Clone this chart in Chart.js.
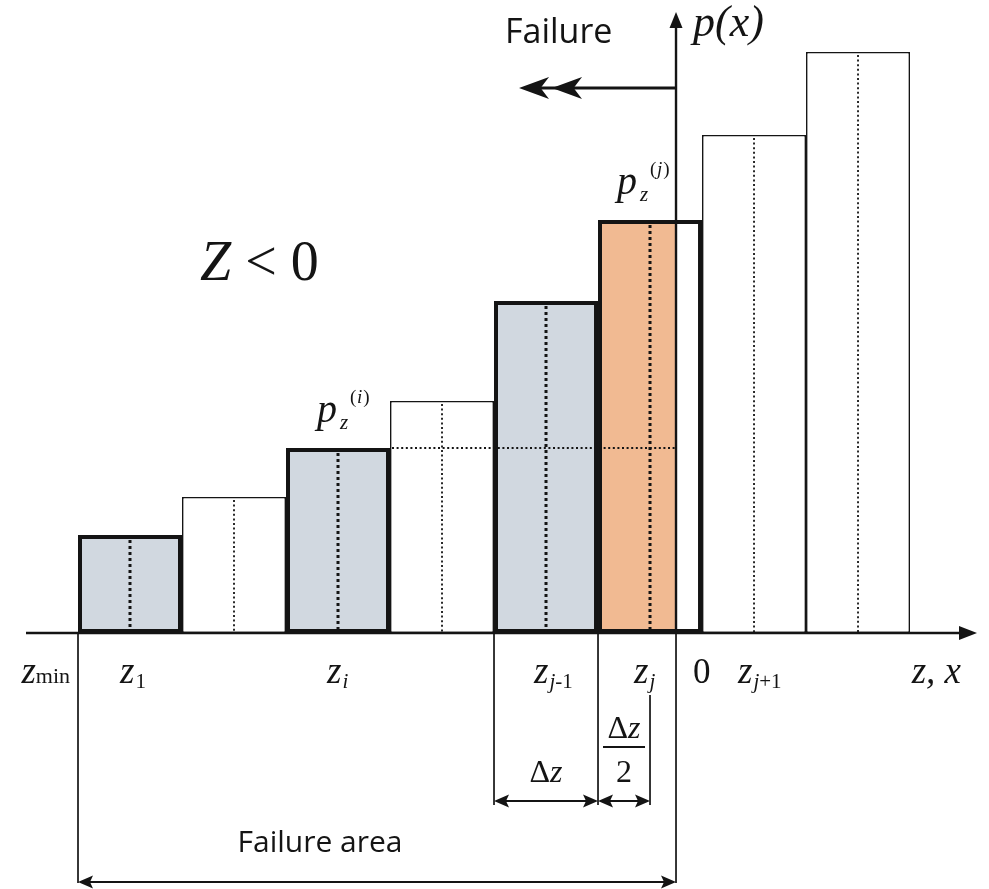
<!DOCTYPE html>
<html>
<head>
<meta charset="utf-8">
<script src="https://cdn.jsdelivr.net/npm/chart.js@4.4.0/dist/chart.umd.min.js"></script>
<style>
  html, body { margin: 0; padding: 0; background: #fff; }
  #wrap { width: 989px; height: 889px; position: relative; }
</style>
</head>
<body>
<div id="wrap"><canvas id="myChart"></canvas></div>
<script>
// x in units of Δz (z_1 sits at 1), y = histogram density p_z
const binCenters = [1, 2, 3, 4, 5, 6, 7, 8];
const density = [0.98, 1.36, 1.85, 2.32, 3.32, 4.13, 4.98, 5.81];
const failureBins = [0, 2, 4];   // bins fully inside the failure area
const splitBin = 5;              // z_j, cut by z = 0
const zeroAt = 6.25;             // where z = 0 lies
const zMinAt = 0.5;
const tickValues = [0.5, 1, 3, 5, 6, 6.25, 7, 9.144];
const tickLabels = [['z', 'min'], ['z', '1'], ['z', 'i'], ['z', 'j-1'], ['z', 'j'], ['0', ''], ['z', 'j+1'], ['z, x', '']];

const gray = 'rgb(209,216,224)';
const orange = 'rgb(241,186,146)';
const ink = '#141414';
const serif = '"Liberation Serif", "DejaVu Serif", serif';
const sans = '"Open Sans", "Noto Sans", sans-serif';

function line(ctx, x0, y0, x1, y1) {
  ctx.beginPath();
  ctx.moveTo(x0, y0);
  ctx.lineTo(x1, y1);
  ctx.stroke();
}

// arrow head, (dx,dy) points toward the tip
function head(ctx, tx, ty, dx, dy, len, half, notch) {
  const bx = tx - dx * len, by = ty - dy * len;
  const px = -dy, py = dx;
  const n = notch || 1;
  ctx.beginPath();
  ctx.moveTo(tx, ty);
  ctx.lineTo(bx + px * half, by + py * half);
  ctx.lineTo(tx - dx * len * n, ty - dy * len * n);
  ctx.lineTo(bx - px * half, by - py * half);
  ctx.closePath();
  ctx.fill();
}

function dim(ctx, x0, x1, y) {
  line(ctx, x0 + 4, y, x1 - 4, y);
  head(ctx, x0, y, -1, 0, 15, 6.5, 0.8);
  head(ctx, x1, y, 1, 0, 15, 6.5, 0.8);
}

function txt(ctx, s, x, y, size, italic, align, family) {
  ctx.font = (italic ? 'italic ' : '') + size + 'px ' + (family || serif);
  ctx.textAlign = align || 'left';
  ctx.fillText(s, x, y);
  return ctx.measureText(s).width;
}

// subscript: letters italic, digits / signs / "min" upright
function sub(ctx, s, x, y, size) {
  if (s === 'min') return txt(ctx, s, x, y, size, false);
  let w = 0;
  for (const ch of s) {
    w += txt(ctx, ch, x + w, y, size, /[a-z]/.test(ch));
  }
  return w;
}

function measure(ctx, s, size, italic) {
  ctx.font = (italic ? 'italic ' : '') + size + 'px ' + serif;
  return ctx.measureText(s).width;
}

const sketch = {
  id: 'sketch',
  afterDatasetsDraw(chart) {
    const ctx = chart.ctx;
    const area = chart.chartArea;
    const X = v => chart.scales.x.getPixelForValue(v);
    const Y = v => chart.scales.y.getPixelForValue(v);
    const base = Y(0);
    const x0 = X(zeroAt);

    ctx.save();
    ctx.fillStyle = ink;
    ctx.strokeStyle = ink;
    ctx.textBaseline = 'alphabetic';

    // dotted mid lines of each bin
    binCenters.forEach((c, i) => {
      const bold = failureBins.includes(i) || i === splitBin;
      ctx.lineWidth = bold ? 3 : 1.8;
      ctx.setLineDash(bold ? [3, 3] : [2, 2.6]);
      line(ctx, X(c), Y(density[i]) + (bold ? 5 : 3), X(c), base);
    });
    // dotted level of p_z^(i)
    ctx.lineWidth = 1.8;
    ctx.setLineDash([2, 2.6]);
    line(ctx, X(binCenters[2] + 0.5) + 2, Y(density[2]), x0, Y(density[2]));
    ctx.setLineDash([]);

    // axes
    ctx.lineWidth = 2.4;
    line(ctx, area.left, base, area.right - 10, base);
    head(ctx, area.right, base, 1, 0, 18, 7);
    line(ctx, x0, base, x0, area.top + 12);
    head(ctx, x0, area.top + 2, 0, -1, 16, 6.5);

    // failure direction arrow
    const fy = Y(5.45);
    ctx.lineWidth = 3;
    line(ctx, x0, fy, x0 - 140, fy);
    head(ctx, x0 - 124, fy, -1, 0, 30, 11, 0.72);
    head(ctx, x0 - 157, fy, -1, 0, 30, 11, 0.72);

    // extension and dimension lines
    ctx.lineWidth = 1.7;
    line(ctx, X(zMinAt), base, X(zMinAt), base + 250);
    line(ctx, x0, base, x0, base + 250);
    line(ctx, X(4.5), base, X(4.5), base + 172);
    line(ctx, X(5.5), base, X(5.5), base + 172);
    line(ctx, X(6), base + 62, X(6), base + 172);
    ctx.lineWidth = 2;
    dim(ctx, X(4.5), X(5.5), base + 168);
    dim(ctx, X(5.5), X(6), base + 168);
    dim(ctx, X(zMinAt), x0, base + 249);

    // tick labels along z
    const nudge = [0, 0, -1, -2, -6, 0, -6, 0];
    const tb = base + 50;
    tickLabels.forEach((lab, i) => {
      const px = X(tickValues[i]) + nudge[i];
      const [main, s] = lab;
      if (main === '0') {
        txt(ctx, '0', px + 17, tb, 35, false);
      } else if (main === 'z, x') {
        txt(ctx, main, px - 16, tb, 37, true, 'right');
      } else if (s === 'min') {
        const ws = measure(ctx, s, 22, false);
        txt(ctx, 'z', px - 8 - ws, tb, 37, true, 'right');
        sub(ctx, s, px - 8 - ws, tb, 22);
      } else {
        const w = txt(ctx, main, px - 10, tb, 37, true);
        sub(ctx, s, px - 10 + w + 1, tb + 5, 21);
      }
    });

    // Δz and Δz/2
    const wd = measure(ctx, 'Δ', 32, false), wz = measure(ctx, 'z', 32, true);
    let cx = X(5) - (wd + wz) / 2;
    txt(ctx, 'Δ', cx, base + 149, 32, false);
    txt(ctx, 'z', cx + wd, base + 149, 32, true);
    cx = X(5.75) - (wd + wz) / 2;
    txt(ctx, 'Δ', cx, base + 105, 32, false);
    txt(ctx, 'z', cx + wd, base + 105, 32, true);
    ctx.lineWidth = 2;
    line(ctx, X(5.75) - 21, base + 114, X(5.75) + 21, base + 114);
    txt(ctx, '2', X(5.75), base + 149, 32, false, 'center');

    // p_z labels over the bins
    [[2, 'i'], [splitBin, 'j']].forEach(([k, s]) => {
      const px = X(binCenters[k]) - (k === splitBin ? 33 : 21);
      const py = Y(density[k]) - 26;
      txt(ctx, 'p', px, py, 40, true);
      txt(ctx, 'z', px + 23, py + 7, 21, true);
      txt(ctx, '(', px + 33, py - 19, 19, false);
      const w = txt(ctx, s, px + 40, py - 19, 19, true);
      txt(ctx, ')', px + 40 + w + 1, py - 19, 19, false);
    });

    // p(x) on the vertical axis
    txt(ctx, 'p(x)', x0 + 17, 36, 44, true);

    // Z < 0
    const wZ = txt(ctx, 'Z', 200, 280, 56, true);
    txt(ctx, ' < 0', 200 + wZ, 280, 56, false);

    // sans captions
    txt(ctx, 'Failure', x0 - 171, 43, 34, false, 'left', sans);
    txt(ctx, 'Failure area', X(zMinAt) + 242, base + 219, 30, false, 'center', sans);

    ctx.restore();
  }
};

function renderChart() {
  const ctx = document.getElementById('myChart');

  new Chart(ctx, {
    type: 'bar',
    data: {
      datasets: [
        {
          data: binCenters.map((c, i) => ({ x: c, y: density[i] })),
          backgroundColor: (c) => {
            const i = c.dataIndex;
            if (failureBins.includes(i)) return gray;
            if (i !== splitBin) return '#ffffff';
            const xs = c.chart.scales.x;
            if (!xs) return orange;
            const a = xs.getPixelForValue(binCenters[i] - 0.5);
            const b = xs.getPixelForValue(binCenters[i] + 0.5);
            const f = (xs.getPixelForValue(zeroAt) - a) / (b - a);
            const g = c.chart.ctx.createLinearGradient(a, 0, b, 0);
            g.addColorStop(0, orange);
            g.addColorStop(f, orange);
            g.addColorStop(f, '#ffffff');
            g.addColorStop(1, '#ffffff');
            return g;
          },
          borderColor: ink,
          borderWidth: (c) => (failureBins.includes(c.dataIndex) || c.dataIndex === splitBin ? 4 : 1.6),
          borderSkipped: false,
          inflateAmount: 0,
          barPercentage: 1,
          categoryPercentage: 1,
        },
      ],
    },
    options: {
      responsive: true,
      maintainAspectRatio: false,
      animation: false,
      layout: { padding: { left: 26, right: 12, top: 10, bottom: 256 } },
      scales: {
        x: { type: 'linear', min: 0, max: 9.144, offset: false, display: false },
        y: { min: 0, max: 6.23, display: false },
      },
      plugins: {
        legend: { display: false },
        tooltip: { enabled: false },
      },
    },
    plugins: [sketch],
  });
}

renderChart();
</script>
</body>
</html>
